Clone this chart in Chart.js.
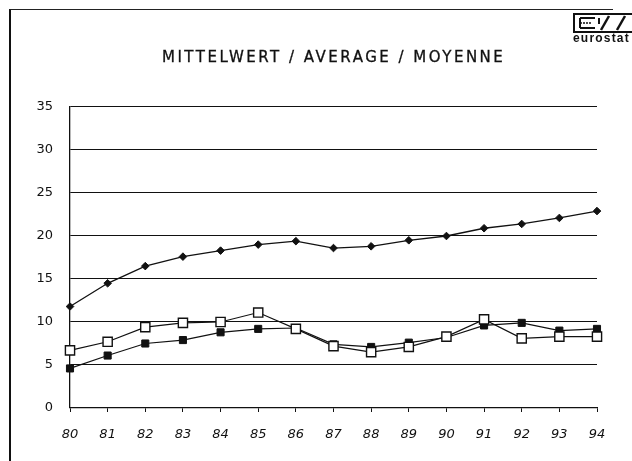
<!DOCTYPE html>
<html>
<head>
<meta charset="utf-8">
<script src="https://cdn.jsdelivr.net/npm/chart.js@4/dist/chart.umd.min.js"></script>
<style>
  html, body { margin: 0; padding: 0; background: #fff; }
  #wrap { position: relative; width: 632px; height: 461px; overflow: hidden; background: #fff; }
  #c { position: absolute; left: 0; top: 0; }
  #frame { position: absolute; left: 9px; top: 9px; width: 602px; height: 470px;
           border-left: 2px solid #111; border-top: 1.5px solid #222; }
  #title { position: absolute; left: 162px; top: 50px; font-family: "DejaVu Sans", sans-serif;
           font-size: 15px; line-height: 15px; letter-spacing: 2.5px; color: #111; white-space: nowrap;
           -webkit-text-stroke: 0.3px #111; }
  #logo { position: absolute; left: 573px; top: 13px; }
  #logotext { position: absolute; left: 573px; top: 32px; font-family: "Liberation Sans", Arial, sans-serif;
              font-weight: bold; font-size: 12px; line-height: 12px; color: #111; letter-spacing: 1.2px; }
</style>
</head>
<body>
<div id="wrap">
  <div id="frame"></div>
  <canvas id="c" width="632" height="461"></canvas>
  <div id="title">MITTELWERT / AVERAGE / MOYENNE</div>
  <svg id="logo" width="60" height="20" viewBox="0 0 60 20">
    <rect x="1" y="1" width="62" height="18" fill="none" stroke="#111" stroke-width="2"/>
    <line x1="7" y1="5" x2="22" y2="5" stroke="#111" stroke-width="2"/>
    <line x1="7" y1="10" x2="18" y2="10" stroke="#111" stroke-width="1.5" stroke-dasharray="2 1"/>
    <line x1="7" y1="15" x2="22" y2="15" stroke="#111" stroke-width="2"/>
    <line x1="7" y1="5" x2="7" y2="15" stroke="#111" stroke-width="2"/>
    <line x1="28" y1="17" x2="36" y2="3" stroke="#111" stroke-width="2.5"/>
    <line x1="26" y1="5" x2="26" y2="11" stroke="#111" stroke-width="2"/>
    <line x1="44" y1="17" x2="52" y2="3" stroke="#111" stroke-width="2.5"/>
  </svg>
  <div id="logotext">eurostat</div>
</div>
<script>
const categories = ["80","81","82","83","84","85","86","87","88","89","90","91","92","93","94"];
const seriesDiamond = [11.8, 14.5, 16.5, 17.6, 18.3, 19.0, 19.4, 18.6, 18.8, 19.5, 20.0, 20.9, 21.4, 22.1, 22.9];
const seriesOpenSquare = [6.7, 7.7, 9.4, 9.9, 10.0, 11.1, 9.2, 7.2, 6.5, 7.1, 8.3, 10.3, 8.1, 8.3, 8.3];
const seriesFilledSquare = [4.6, 6.1, 7.5, 7.9, 8.8, 9.2, 9.3, 7.4, 7.1, 7.6, 8.2, 9.6, 9.9, 9.0, 9.2];
const yMin = 0, yMax = 35, yStep = 5;

const tickFont = { family: "'DejaVu Sans', sans-serif", size: 13 };

new Chart(document.getElementById('c'), {
  type: 'line',
  data: {
    labels: categories,
    datasets: [
      {
        label: 'open',
        data: seriesOpenSquare,
        borderColor: '#111', borderWidth: 1.2,
        pointStyle: 'rect', pointRadius: 6.5, pointBackgroundColor: '#fff',
        pointBorderColor: '#111', pointBorderWidth: 1.4,
        tension: 0, clip: false
      },
      {
        label: 'filled',
        data: seriesFilledSquare,
        borderColor: '#111', borderWidth: 1.2,
        pointStyle: 'rect', pointRadius: 5, pointBackgroundColor: '#111',
        pointBorderColor: '#111', pointBorderWidth: 1,
        tension: 0, clip: false
      },
      {
        label: 'diamond',
        data: seriesDiamond,
        borderColor: '#111', borderWidth: 1.3,
        pointStyle: 'rectRot', pointRadius: 3.8, pointBackgroundColor: '#111',
        pointBorderColor: '#111', pointBorderWidth: 1,
        tension: 0, clip: false
      }
    ]
  },
  options: {
    responsive: false,
    animation: false,
    devicePixelRatio: 1,
    layout: { padding: { top: 107, left: 0, right: 35, bottom: 0 } },
    plugins: { legend: { display: false }, title: { display: false }, tooltip: { enabled: false } },
    scales: {
      x: {
        type: 'category',
        offset: false,
        afterFit: (s) => { s.height = 53; },
        grid: { display: true, drawOnChartArea: false, drawTicks: true, tickLength: 4, color: '#111', lineWidth: 1 },
        border: { display: true, color: '#111', width: 1.3 },
        ticks: { color: '#111', font: Object.assign({ style: 'italic' }, tickFont), padding: 15, maxRotation: 0, autoSkip: false }
      },
      y: {
        min: yMin, max: yMax,
        afterFit: (s) => { s.width = 70; },
        grid: { display: true, drawTicks: false, color: '#111', lineWidth: 1.1 },
        border: { display: true, color: '#111', width: 1.3 },
        ticks: { stepSize: yStep, color: '#111', font: tickFont, padding: 17 }
      }
    }
  }
});
</script>
</body>
</html>
